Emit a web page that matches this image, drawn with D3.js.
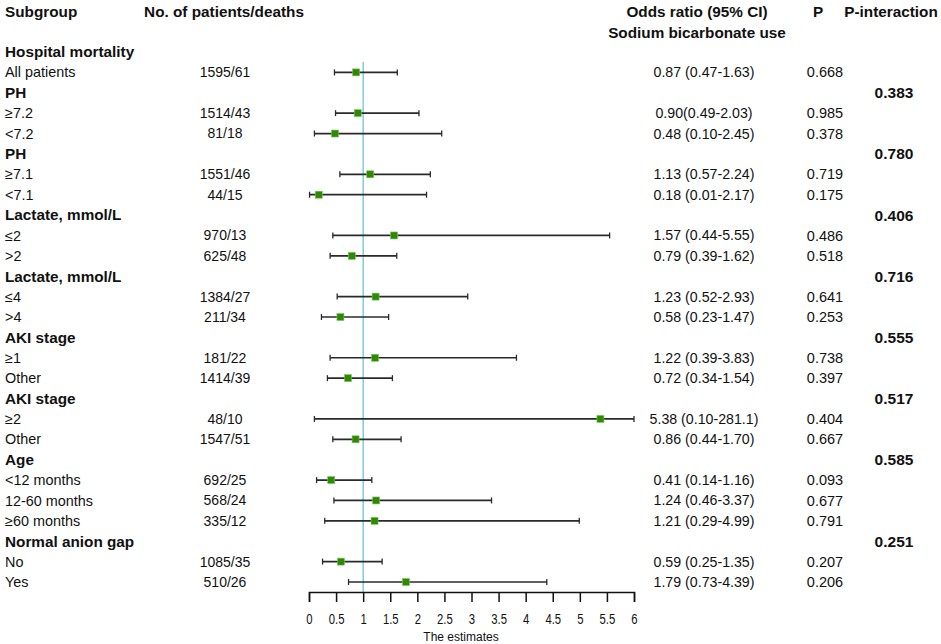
<!DOCTYPE html>
<html>
<head>
<meta charset="utf-8">
<script src="https://cdn.jsdelivr.net/npm/d3@7"></script>
<style>
  body { margin: 0; background: #fff; }
  svg text { font-family: "Liberation Sans", Arial, sans-serif; fill: #111; }
  .bold { font-weight: bold; }
</style>
</head>
<body>
<div id="chart"></div>
<script>
// rows of the table, top to bottom
var labels = ["Hospital mortality", "All patients", "PH", "\u22657.2", "<7.2", "PH", "\u22657.1", "<7.1",
  "Lactate, mmol/L", "\u22642", ">2", "Lactate, mmol/L", "\u22644", ">4",
  "AKI stage", "\u22651", "Other", "AKI stage", "\u22652", "Other",
  "Age", "<12 months", "12-60 months", "\u226560 months", "Normal anion gap", "No", "Yes"];
var isHeader = [1,0,1,0,0,1,0,0,1,0,0,1,0,0,1,0,0,1,0,0,1,0,0,0,1,0,0];
var counts = ["", "1595/61", "", "1514/43", "81/18", "", "1551/46", "44/15",
  "", "970/13", "625/48", "", "1384/27", "211/34",
  "", "181/22", "1414/39", "", "48/10", "1547/51",
  "", "692/25", "568/24", "335/12", "", "1085/35", "510/26"];
var est = [null, 0.87, null, 0.90, 0.48, null, 1.13, 0.18, null, 1.57, 0.79, null, 1.23, 0.58,
  null, 1.22, 0.72, null, 5.38, 0.86, null, 0.41, 1.24, 1.21, null, 0.59, 1.79];
var lower = [null, 0.47, null, 0.49, 0.10, null, 0.57, 0.01, null, 0.44, 0.39, null, 0.52, 0.23,
  null, 0.39, 0.34, null, 0.10, 0.44, null, 0.14, 0.46, 0.29, null, 0.25, 0.73];
var upper = [null, 1.63, null, 2.03, 2.45, null, 2.24, 2.17, null, 5.55, 1.62, null, 2.93, 1.47,
  null, 3.83, 1.54, null, 281.1, 1.70, null, 1.16, 3.37, 4.99, null, 1.35, 4.39];
var orText = ["", "0.87 (0.47-1.63)", "", "0.90(0.49-2.03)", "0.48 (0.10-2.45)", "", "1.13 (0.57-2.24)", "0.18 (0.01-2.17)",
  "", "1.57 (0.44-5.55)", "0.79 (0.39-1.62)", "", "1.23 (0.52-2.93)", "0.58 (0.23-1.47)",
  "", "1.22 (0.39-3.83)", "0.72 (0.34-1.54)", "", "5.38 (0.10-281.1)", "0.86 (0.44-1.70)",
  "", "0.41 (0.14-1.16)", "1.24 (0.46-3.37)", "1.21 (0.29-4.99)", "", "0.59 (0.25-1.35)", "1.79 (0.73-4.39)"];
var pText = ["", "0.668", "", "0.985", "0.378", "", "0.719", "0.175", "", "0.486", "0.518", "", "0.641", "0.253",
  "", "0.738", "0.397", "", "0.404", "0.667", "", "0.093", "0.677", "0.791", "", "0.207", "0.206"];
var pInter = ["", "", "0.383", "", "", "0.780", "", "", "0.406", "", "", "0.716", "", "",
  "0.555", "", "", "0.517", "", "", "0.585", "", "", "", "0.251", "", ""];
var xTicks = [0, 0.5, 1, 1.5, 2, 2.5, 3, 3.5, 4, 4.5, 5, 5.5, 6];

var width = 941, height = 644;

var svg = d3.select("#chart")
  .append("svg")
    .attr("width", width)
    .attr("height", height);

var x = d3.scaleLinear().domain([0, 6]).range([309, 634]);
var y = d3.scaleLinear().domain([0, labels.length - 1]).range([52, 582]);
var axisY = 592;

// column headers
var heads = [
  {t: "Subgroup", x: 5, y: 12, a: "start"},
  {t: "No. of patients/deaths", x: 224, y: 12, a: "middle"},
  {t: "Odds ratio (95% CI)", x: 697, y: 12, a: "middle"},
  {t: "Sodium bicarbonate use", x: 697, y: 33, a: "middle"},
  {t: "P", x: 818, y: 12, a: "middle"},
  {t: "P-interaction", x: 891, y: 12, a: "middle"}
];
svg.selectAll(".head").data(heads).enter().append("text")
  .attr("class", "head bold")
  .attr("x", function(d) { return d.x; })
  .attr("y", function(d) { return d.y; })
  .attr("dy", "0.35em")
  .attr("text-anchor", function(d) { return d.a; })
  .style("font-size", "15.3px")
  .text(function(d) { return d.t; });

var idx = d3.range(labels.length);

// left side text
svg.selectAll(".lab").data(idx).enter().append("text")
  .attr("class", function(i) { return isHeader[i] ? "lab bold" : "lab"; })
  .attr("x", 5)
  .attr("y", function(i) { return y(i); })
  .attr("dy", "0.35em")
  .style("font-size", function(i) { return isHeader[i] ? "15.3px" : "14.4px"; })
  .text(function(i) { return labels[i]; });

svg.selectAll(".cnt").data(idx).enter().append("text")
  .attr("x", 225)
  .attr("y", function(i) { return y(i); })
  .attr("dy", "0.35em")
  .attr("text-anchor", "middle")
  .style("font-size", "14px")
  .text(function(i) { return counts[i]; });

// right side text
svg.selectAll(".or").data(idx).enter().append("text")
  .attr("x", 704)
  .attr("y", function(i) { return y(i); })
  .attr("dy", "0.35em")
  .attr("text-anchor", "middle")
  .style("font-size", "14.2px")
  .text(function(i) { return orText[i]; });

svg.selectAll(".pv").data(idx).enter().append("text")
  .attr("x", 825)
  .attr("y", function(i) { return y(i); })
  .attr("dy", "0.35em")
  .attr("text-anchor", "middle")
  .style("font-size", "14.5px")
  .text(function(i) { return pText[i]; });

svg.selectAll(".pint").data(idx).enter().append("text")
  .attr("class", "bold")
  .attr("x", 894)
  .attr("y", function(i) { return y(i); })
  .attr("dy", "0.35em")
  .attr("text-anchor", "middle")
  .style("font-size", "15.5px")
  .text(function(i) { return pInter[i]; });

// reference line at 1
svg.append("line")
  .attr("x1", x(1)).attr("x2", x(1))
  .attr("y1", 62).attr("y2", axisY)
  .attr("stroke", "#6cc6d2")
  .attr("stroke-width", 1.3);

// confidence intervals (clipped to axis range)
var ci = idx.filter(function(i) { return est[i] !== null; });
var hiX = function(i) { return x(Math.min(upper[i], 6)); };

svg.selectAll(".ci").data(ci).enter().append("line")
  .attr("x1", function(i) { return x(lower[i]); })
  .attr("x2", hiX)
  .attr("y1", function(i) { return y(i); })
  .attr("y2", function(i) { return y(i); })
  .attr("stroke", "#2a2a2a")
  .attr("stroke-width", 1.7);

svg.selectAll(".capL").data(ci).enter().append("line")
  .attr("x1", function(i) { return x(lower[i]); })
  .attr("x2", function(i) { return x(lower[i]); })
  .attr("y1", function(i) { return y(i) - 3; })
  .attr("y2", function(i) { return y(i) + 3; })
  .attr("stroke", "#2a2a2a").attr("stroke-width", 1.3);

svg.selectAll(".capR").data(ci).enter().append("line")
  .attr("x1", hiX)
  .attr("x2", hiX)
  .attr("y1", function(i) { return y(i) - 3; })
  .attr("y2", function(i) { return y(i) + 3; })
  .attr("stroke", "#2a2a2a").attr("stroke-width", 1.3);

svg.selectAll(".pt").data(ci).enter().append("rect")
  .attr("x", function(i) { return x(est[i]) - 3.5; })
  .attr("y", function(i) { return y(i) - 3.5; })
  .attr("width", 7)
  .attr("height", 7)
  .attr("fill", "#2f8a00")
  .attr("stroke", "#7cc26a")
  .attr("stroke-width", 0.6);

// x axis
var xAxis = svg.append("g")
  .attr("transform", "translate(0," + axisY + ")")
  .call(d3.axisBottom(x).tickValues(xTicks).tickSizeOuter(0).tickSize(10).tickPadding(12)
    .tickFormat(d3.format("")));
xAxis.select(".domain").attr("stroke", "#111").attr("stroke-width", 1.5);
xAxis.selectAll(".tick line").attr("stroke", "#111").attr("stroke-width", 1.5);
// narrow-looking tick labels
xAxis.selectAll(".tick text")
  .style("font-size", "14.5px")
  .attr("fill", "#111")
  .attr("transform", "scale(0.78,1)");

svg.append("text")
  .attr("x", 461)
  .attr("y", 637)
  .attr("dy", "0.35em")
  .attr("text-anchor", "middle")
  .style("font-size", "12px")
  .text("The estimates");
</script>
</body>
</html>
